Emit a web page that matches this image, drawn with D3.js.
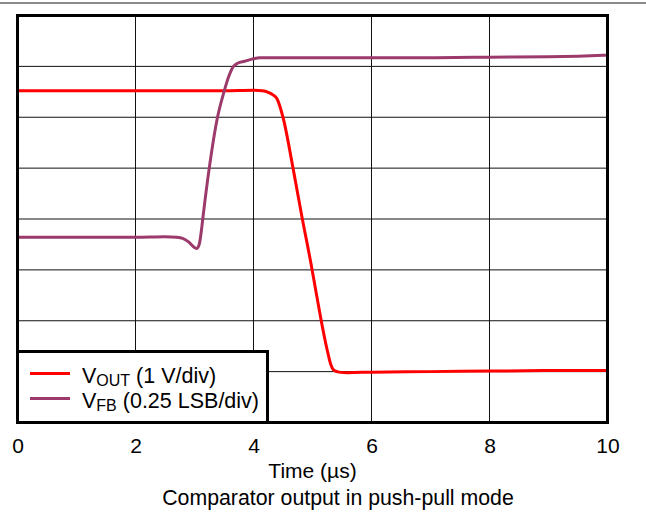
<!DOCTYPE html>
<html>
<head>
<meta charset="utf-8">
<script src="https://cdn.jsdelivr.net/npm/d3@7"></script>
<style>
  body { margin: 0; background: #fff; }
  text { font-family: "Liberation Sans", Arial, sans-serif; fill: #000; }
</style>
</head>
<body>
<div id="chart"></div>
<script>
// time in microseconds, values in scope divisions (0 = bottom grid line)
let voutT = [0, 1, 2, 3, 3.5, 4.0, 4.15, 4.25, 4.33, 4.4, 4.5, 4.67, 4.82, 4.97, 5.07, 5.14, 5.25, 5.31, 5.37, 5.45, 5.6, 6, 7, 8, 9, 10];
let voutV = [6.52, 6.52, 6.52, 6.52, 6.52, 6.53, 6.52, 6.49, 6.44, 6.36, 6.0, 5.0, 4.05, 3.15, 2.5, 2.05, 1.42, 1.14, 1.02, 0.99, 0.98, 0.99, 1.0, 1.01, 1.02, 1.02];
let vfbT = [0, 1, 2, 2.5, 2.7, 2.8, 2.9, 3.0, 3.04, 3.08, 3.12, 3.14, 3.25, 3.39, 3.5, 3.58, 3.66, 3.73, 3.85, 4.0, 4.1, 5, 6, 7, 8, 9, 9.5, 10];
let vfbV = [3.64, 3.64, 3.64, 3.65, 3.64, 3.62, 3.55, 3.44, 3.42, 3.5, 3.8, 4.0, 5.0, 6.0, 6.5, 6.8, 7.0, 7.06, 7.1, 7.15, 7.17, 7.17, 7.17, 7.17, 7.18, 7.19, 7.2, 7.22];
let xTicks = [0, 2, 4, 6, 8, 10];
let yDivs = [0, 1, 2, 3, 4, 5, 6, 7, 8];
let legendNames = [["V", "OUT", " (1 V/div)"], ["V", "FB", " (0.25 LSB/div)"]];
let colors = ["#ff0000", "#9c3a6c"];

let W = 646, H = 520;
let svg = d3.select("#chart").append("svg")
    .attr("width", W)
    .attr("height", H);

// gray rule at the very top
svg.append("line")
    .attr("x1", 0).attr("x2", W)
    .attr("y1", 3).attr("y2", 3)
    .attr("stroke", "#8a8a8a")
    .attr("stroke-width", 2);

let pL = 17.5, pR = 607.5, pT = 15.5, pB = 422.5;
let x = d3.scaleLinear().domain([0, 10]).range([pL, pR]);
let y = d3.scaleLinear().domain([0, 8]).range([pB, pT]);

// grid
svg.selectAll(".vgrid")
    .data(xTicks)
    .enter()
    .append("line")
    .attr("class", "vgrid")
    .attr("x1", d => x(d)).attr("x2", d => x(d))
    .attr("y1", pT).attr("y2", pB)
    .attr("stroke", "#111")
    .attr("stroke-width", 1);
svg.selectAll(".hgrid")
    .data(yDivs)
    .enter()
    .append("line")
    .attr("class", "hgrid")
    .attr("x1", pL).attr("x2", pR)
    .attr("y1", d => y(d)).attr("y2", d => y(d))
    .attr("stroke", "#111")
    .attr("stroke-width", 1);

svg.append("clipPath").attr("id", "clip")
    .append("rect")
    .attr("x", pL).attr("y", pT)
    .attr("width", pR - pL).attr("height", pB - pT);

let line = d3.line()
    .x(d => x(d[0]))
    .y(d => y(d[1]))
    .curve(d3.curveMonotoneX);

let series = [d3.zip(voutT, voutV), d3.zip(vfbT, vfbV)];
svg.append("g")
    .attr("clip-path", "url(#clip)")
    .selectAll("path")
    .data(series)
    .enter()
    .append("path")
    .attr("d", line)
    .attr("fill", "none")
    .attr("stroke", (d, i) => colors[i])
    .attr("stroke-width", 3)
    .attr("stroke-linejoin", "round");

// frame
svg.append("rect")
    .attr("x", pL).attr("y", pT)
    .attr("width", pR - pL).attr("height", pB - pT)
    .attr("fill", "none")
    .attr("stroke", "#000")
    .attr("stroke-width", 3);

// x axis labels
let xAxis = d3.axisBottom(x).tickValues(xTicks).tickSize(0).tickPadding(16);
let gx = svg.append("g")
    .attr("transform", `translate(0, ${pB})`)
    .call(xAxis);
gx.select(".domain").remove();
gx.selectAll("text")
    .attr("font-size", 21)
    .style("font-family", "'Liberation Sans', Arial, sans-serif");

svg.append("text")
    .attr("x", (pL + pR) / 2)
    .attr("y", 478)
    .attr("text-anchor", "middle")
    .attr("font-size", 21)
    .text("Time (\u00b5s)");

svg.append("text")
    .attr("x", 338)
    .attr("y", 505)
    .attr("text-anchor", "middle")
    .attr("font-size", 21.3)
    .text("Comparator output in push-pull mode");

// legend
let lg = svg.append("g");
lg.append("rect")
    .attr("x", pL).attr("y", 351.5)
    .attr("width", 250).attr("height", pB - 351.5)
    .attr("fill", "#fff")
    .attr("stroke", "#000")
    .attr("stroke-width", 3);
let items = lg.selectAll(".item")
    .data(legendNames)
    .enter()
    .append("g")
    .attr("class", "item")
    .attr("transform", (d, i) => `translate(0, ${373.5 + i * 25})`);
items.append("line")
    .attr("x1", 30).attr("x2", 70)
    .attr("stroke", (d, i) => colors[i])
    .attr("stroke-width", 3);
let t = items.append("text")
    .attr("x", 82)
    .attr("y", 9.5)
    .attr("font-size", 21.5);
t.append("tspan").text(d => d[0]);
t.append("tspan").attr("font-size", 16).attr("dy", 3).text(d => d[1]);
t.append("tspan").attr("dy", -3).text(d => d[2]);
</script>
</body>
</html>
